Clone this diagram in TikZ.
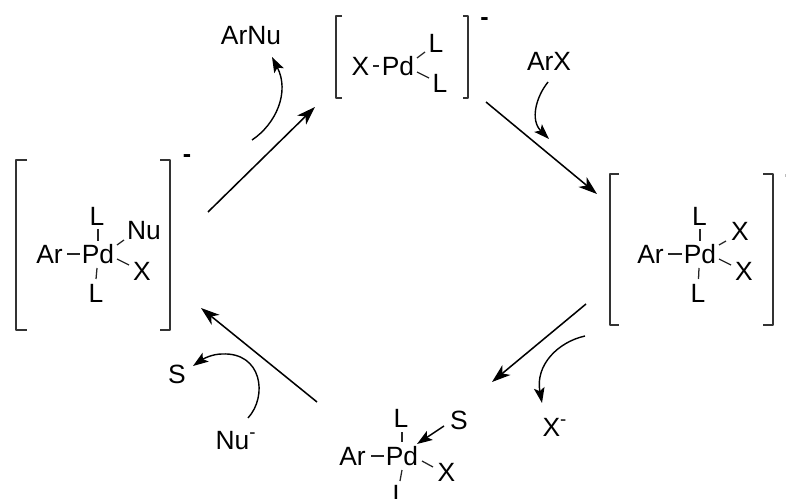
\documentclass[tikz,border=0pt]{standalone}
\usepackage{fontspec}
\setmainfont{Liberation Sans}
\usetikzlibrary{arrows.meta}
\tikzset{
  x=0.75pt,y=-0.75pt,
  lbl/.style={anchor=base,inner sep=0pt,font=\fontsize{19.8}{21}\selectfont},
  chg/.style={anchor=base,inner sep=0pt,font=\fontsize{18.75}{20}\selectfont\bfseries},
  bnd/.style={line width=0.95pt,draw=black!85},
  brk/.style={line width=1.05pt,draw=black!80,line join=round},
  rxn/.style={line width=1.15pt,-{Stealth[length=14pt,width=9.5pt,inset=4pt]}},
  curv/.style={line width=1.05pt,-{Stealth[length=11.5pt,width=8pt,inset=2.5pt]}},
}
\newcommand{\supminus}{\raisebox{0.40em}{\fontsize{14}{15}\selectfont -}}
\begin{document}
\begin{tikzpicture}
\useasboundingbox (0,0) rectangle (786,499);
\clip (0,0) rectangle (786,499);
% left complex
\node[lbl] (a1) at (49.5,263.5) {Ar};
\node[lbl] (a2) at (98,263.5) {Pd};
\node[lbl] (a3) at (97,225.5) {L};
\node[lbl] (a4) at (144,239.5) {Nu};
\node[lbl] (a5) at (142,280.5) {X};
\node[lbl] (a6) at (96,302.5) {L};
\coordinate (a1b) at (67,254); \coordinate (a2b) at (80,254);
\draw[bnd] (a1b) -- (a2b);
\coordinate (a3b) at (98,229); \coordinate (a3c) at (98,241);
\draw[bnd] (a3b) -- (a3c);
\coordinate (a6b) at (97,268); \coordinate (a6c) at (96,279);
\draw[bnd] (a6b) -- (a6c);
\coordinate (a4b) at (117,245); \coordinate (a4c) at (124,240);
\draw[bnd] (a4b) -- (a4c);
\coordinate (a5b) at (117,259); \coordinate (a5c) at (129,265);
\draw[bnd] (a5b) -- (a5c);
\coordinate (al1) at (27,160); \coordinate (al2) at (16,160); \coordinate (al3) at (16,330); \coordinate (al4) at (27,330);
\draw[brk] (al1) -- (al2) -- (al3) -- (al4);
\coordinate (ar1) at (160,160); \coordinate (ar2) at (170,160); \coordinate (ar3) at (170,330); \coordinate (ar4) at (160,330);
\draw[brk] (ar1) -- (ar2) -- (ar3) -- (ar4);
\node[chg] (am) at (187,163) {-};
% top complex
\node[lbl] (t1) at (360.5,75.5) {X};
\node[lbl] (t2) at (398,75.5) {Pd};
\node[lbl] (t3) at (436,52.5) {L};
\node[lbl] (t4) at (440,92.5) {L};
\coordinate (t1b) at (373,66); \coordinate (t1c) at (379,66);
\draw[bnd] (t1b) -- (t1c);
\coordinate (t3b) at (417,58); \coordinate (t3c) at (425,52);
\draw[bnd] (t3b) -- (t3c);
\coordinate (t4b) at (417,72); \coordinate (t4c) at (429,78);
\draw[bnd] (t4b) -- (t4c);
\coordinate (tl1) at (342,16); \coordinate (tl2) at (336,16); \coordinate (tl3) at (336,98); \coordinate (tl4) at (342,98);
\draw[brk] (tl1) -- (tl2) -- (tl3) -- (tl4);
\coordinate (tr1) at (463,16); \coordinate (tr2) at (468,16); \coordinate (tr3) at (468,98); \coordinate (tr4) at (463,98);
\draw[brk] (tr1) -- (tr2) -- (tr3) -- (tr4);
\node[chg] (tm) at (484.5,26) {-};
% right complex
\node[lbl] (r1) at (650.5,263.5) {Ar};
\node[lbl] (r2) at (700,263.5) {Pd};
\node[lbl] (r3) at (699.5,225.5) {L};
\node[lbl] (r4) at (740,240.5) {X};
\node[lbl] (r5) at (744,280.5) {X};
\node[lbl] (r6) at (698,302.5) {L};
\coordinate (r1b) at (668,254); \coordinate (r1c) at (682,254);
\draw[bnd] (r1b) -- (r1c);
\coordinate (r3b) at (700,229); \coordinate (r3c) at (700,241);
\draw[bnd] (r3b) -- (r3c);
\coordinate (r6b) at (699,268); \coordinate (r6c) at (698.5,279);
\draw[bnd] (r6b) -- (r6c);
\coordinate (r4b) at (719,245); \coordinate (r4c) at (726,241);
\draw[bnd] (r4b) -- (r4c);
\coordinate (r5b) at (719,259); \coordinate (r5c) at (731,265);
\draw[bnd] (r5b) -- (r5c);
\coordinate (rl1) at (619,174); \coordinate (rl2) at (610,174); \coordinate (rl3) at (610,325); \coordinate (rl4) at (619,325);
\draw[brk] (rl1) -- (rl2) -- (rl3) -- (rl4);
\coordinate (rr1) at (763,174); \coordinate (rr2) at (773,174); \coordinate (rr3) at (773,325); \coordinate (rr4) at (763,325);
\draw[brk] (rr1) -- (rr2) -- (rr3) -- (rr4);
\node[chg] (rm) at (789,182.5) {-};
% bottom complex
\node[lbl] (b1) at (352.5,465.5) {Ar};
\node[lbl] (b2) at (402,465.5) {Pd};
\node[lbl] (b3) at (401,427) {L};
\node[lbl] (b4) at (459,429.5) {S};
\node[lbl] (b5) at (446.5,481) {X};
\node[lbl] (b6) at (400,503.5) {L};
\coordinate (b1b) at (371,456); \coordinate (b1c) at (384,456);
\draw[bnd] (b1b) -- (b1c);
\coordinate (b3b) at (402,432); \coordinate (b3c) at (402,442);
\draw[bnd] (b3b) -- (b3c);
\coordinate (b6b) at (402,470); \coordinate (b6c) at (400,481);
\draw[bnd] (b6b) -- (b6c);
\coordinate (b5b) at (422,461); \coordinate (b5c) at (433,467);
\draw[bnd] (b5b) -- (b5c);
\coordinate (b4b) at (444,426); \coordinate (b4c) at (417,444);
\draw[curv] (b4b) -- (b4c);
% species
\node[lbl] (arnu) at (251,44.5) {ArNu};
\node[lbl] (arx) at (549,70.5) {ArX};
\node[lbl] (xm) at (554.5,436.5) {X\supminus};
\node[lbl] (num) at (235.5,449.5) {Nu\supminus};
\node[lbl] (s) at (177,383) {S};
% main arrows
\coordinate (m1a) at (208,212); \coordinate (m1b) at (315,107);
\draw[rxn] (m1a) -- (m1b);
\coordinate (m2a) at (486,102); \coordinate (m2b) at (597,194);
\draw[rxn] (m2a) -- (m2b);
\coordinate (m3a) at (586,304); \coordinate (m3b) at (492,382);
\draw[rxn] (m3a) -- (m3b);
\coordinate (m4a) at (317,402); \coordinate (m4b) at (201,308);
\draw[rxn] (m4a) -- (m4b);
% curved arrows
\coordinate (c1a) at (252,140); \coordinate (c1b) at (272,57);
\draw[curv] (c1a) .. controls (276,124) and (290,92) .. (c1b);
\coordinate (c2a) at (548,82); \coordinate (c2b) at (549,139);
\draw[curv] (c2a) .. controls (536,97) and (530,120) .. (c2b);
\coordinate (c3a) at (585,336); \coordinate (c3b) at (542,403);
\draw[curv] (c3a) .. controls (558,342) and (535,365) .. (c3b);
\coordinate (c4a) at (248,418); \coordinate (c4b) at (193,366);
\draw[curv] (c4a) .. controls (268,396) and (262,352) .. (222,354) .. controls (212,354) and (203,359) .. (c4b);
\end{tikzpicture}
\end{document}
